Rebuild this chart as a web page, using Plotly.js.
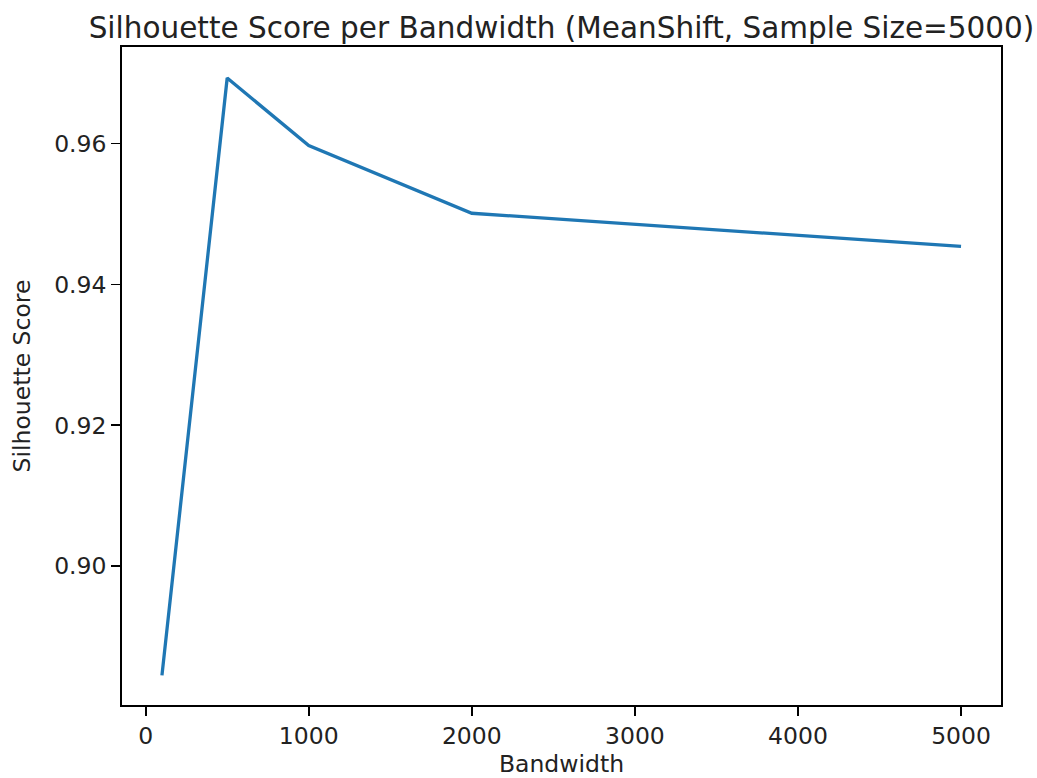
<!DOCTYPE html>
<html>
<head>
<meta charset="utf-8">
<script src="https://cdn.plot.ly/plotly-3.0.1.min.js"></script>
<style>html,body{margin:0;padding:0;background:#fff;}#chart{width:1037px;height:778px;}</style>
</head>
<body>
<div id="chart"></div>
<script>
const bandwidths = [100, 500, 1000, 2000, 5000];
const silhouetteScores = [0.8845, 0.9693, 0.9597, 0.9501, 0.9454];
const xTickVals = [0, 1000, 2000, 3000, 4000, 5000];
const yTickVals = [0.90, 0.92, 0.94, 0.96];

const FONT = 'DejaVu Sans, sans-serif';
const trace = {
  x: bandwidths,
  y: silhouetteScores,
  type: 'scatter',
  mode: 'lines',
  line: {color: '#1f77b4', width: 3.3},
  hoverinfo: 'skip'
};
const axisCommon = {
  showline: true, mirror: true, linecolor: '#000', linewidth: 1.8,
  showgrid: false, zeroline: false,
  ticks: 'outside', ticklen: 9, tickwidth: 1.8, tickcolor: '#000',
  tickfont: {family: FONT, size: 23.5, color: '#222'}
};
const layout = {
  width: 1037, height: 778,
  margin: {l: 122, r: 36, t: 47, b: 73},
  paper_bgcolor: '#fff', plot_bgcolor: '#fff',
  showlegend: false,
  font: {family: FONT, color: '#222'},
  title: {
    text: 'Silhouette Score per Bandwidth (MeanShift, Sample Size=5000)',
    font: {family: FONT, size: 29.5, color: '#222'},
    xref: 'paper', x: 0.5, xanchor: 'center',
    yref: 'container', y: 1 - 28/778, yanchor: 'middle'
  },
  xaxis: Object.assign({}, axisCommon, {
    range: [-145, 5245],
    tickvals: xTickVals,
    ticktext: xTickVals.map(v => String(v)),
    title: {text: 'Bandwidth', font: {family: FONT, size: 23.5, color: '#222'}, standoff: 12}
  }),
  yaxis: Object.assign({}, axisCommon, {
    range: [0.8803, 0.9737],
    tickvals: yTickVals,
    ticktext: yTickVals.map(v => v.toFixed(2)),
    title: {text: 'Silhouette Score', font: {family: FONT, size: 23.5, color: '#222'}, standoff: 17}
  })
};
Plotly.newPlot('chart', [trace], layout, {displayModeBar: false, staticPlot: true});
</script>
</body>
</html>
